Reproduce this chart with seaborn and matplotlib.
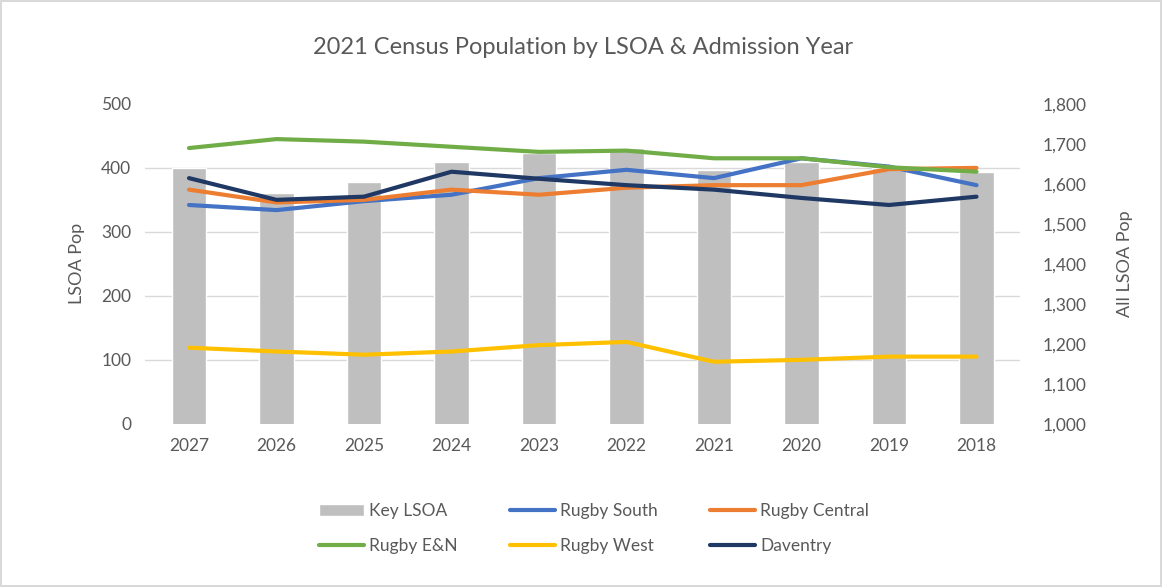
import matplotlib
matplotlib.use("Agg")
import matplotlib.pyplot as plt
import pandas as pd
import seaborn as sns

# data
years = ['2027', '2026', '2025', '2024', '2023', '2022', '2021', '2020', '2019', '2018']
key_lsoa = [1640, 1578, 1605, 1655, 1677, 1690, 1635, 1655, 1640, 1630]
rugby_south = [342, 334, 348, 358, 384, 397, 384, 415, 402, 373]
rugby_central = [366, 346, 350, 366, 358, 369, 373, 373, 398, 400]
rugby_en = [431, 445, 441, 433, 425, 427, 415, 415, 401, 394]
rugby_west = [119, 113, 108, 113, 123, 128, 97, 100, 105, 105]
daventry = [384, 350, 355, 394, 383, 373, 366, 353, 342, 355]

series = {'Rugby South': rugby_south, 'Rugby Central': rugby_central,
          'Rugby E&N': rugby_en, 'Rugby West': rugby_west, 'Daventry': daventry}
colors = {'Rugby South': '#4472C4', 'Rugby Central': '#ED7D31',
          'Rugby E&N': '#70AD47', 'Rugby West': '#FFC000', 'Daventry': '#203864'}

bars = pd.DataFrame({'year': years, 'pop': key_lsoa})
lines = pd.concat([pd.DataFrame({'year': years, 'pop': v, 'area': k}) for k, v in series.items()],
                  ignore_index=True)

sns.set_style('white')
plt.rcParams['font.family'] = ['Lato', 'DejaVu Sans']
txt = '#595959'

fig = plt.figure(figsize=(11.62, 5.87), dpi=100)
fig.patch.set_edgecolor('#d9d9d9')
fig.patch.set_linewidth(1.5)
ax = fig.add_axes([0.125, 0.278, 0.753, 0.545])
ax2 = ax.twinx()

# bars on the secondary axis, behind the lines
sns.barplot(data=bars, x='year', y='pop', color='#BFBFBF', width=0.39,
            saturation=1, ax=ax2, label='Key LSOA')
if ax2.get_legend():
    ax2.get_legend().remove()
ax2.set_ylim(1000, 1800)
ax2.set_yticks(range(1000, 1801, 100))
ax2.set_yticklabels([f'{v:,}' for v in range(1000, 1801, 100)])
# gridlines follow the left axis ticks (0..500), drawn behind the bars
ax2.set_yticks([1000 + v * 1.6 for v in range(0, 501, 100)], minor=True)
ax2.grid(axis='y', which='minor', color='#d9d9d9', lw=1)
ax2.grid(axis='y', which='major', visible=False)
ax2.tick_params(which='minor', length=0)
ax2.set_axisbelow(True)
ax2.set_ylabel('All LSOA Pop', color=txt, fontsize=13, labelpad=22)

sns.lineplot(data=lines, x='year', y='pop', hue='area', palette=colors,
             lw=3, ax=ax, sort=False)
ax.set_ylim(0, 500)
ax.set_yticks(range(0, 501, 100))
ax.set_ylabel('LSOA Pop', color=txt, fontsize=13, labelpad=12)
ax.set_xlabel('')
ax2.set_xlabel('')
ax.set_xlim(-0.5, len(years) - 0.5)
ax.set_zorder(ax2.get_zorder() + 1)
ax.patch.set_visible(False)
ax.grid(False)

for a in (ax, ax2):
    for s in a.spines.values():
        s.set_visible(False)
    a.tick_params(length=0, labelsize=12.5, colors=txt, pad=10)
ax2.tick_params(axis='y', pad=16)

ax.set_title('2021 Census Population by LSOA & Admission Year', color=txt,
             fontsize=17, pad=36)

h1, l1 = ax2.get_legend_handles_labels()
h2, l2 = ax.get_legend_handles_labels()
ax.get_legend().remove()
hd = dict(zip(l1 + l2, h1 + h2))
order = ['Key LSOA', 'Rugby E&N', 'Rugby South', 'Rugby West', 'Rugby Central', 'Daventry']
fig.legend([hd[k] for k in order], order, loc='center', bbox_to_anchor=(0.511, 0.1),
           ncol=3, frameon=False, fontsize=12.5, labelcolor=txt, handlelength=2.6,
           handletextpad=0.3, columnspacing=3.0, labelspacing=1.1)

fig.savefig('out.png', dpi=100)
